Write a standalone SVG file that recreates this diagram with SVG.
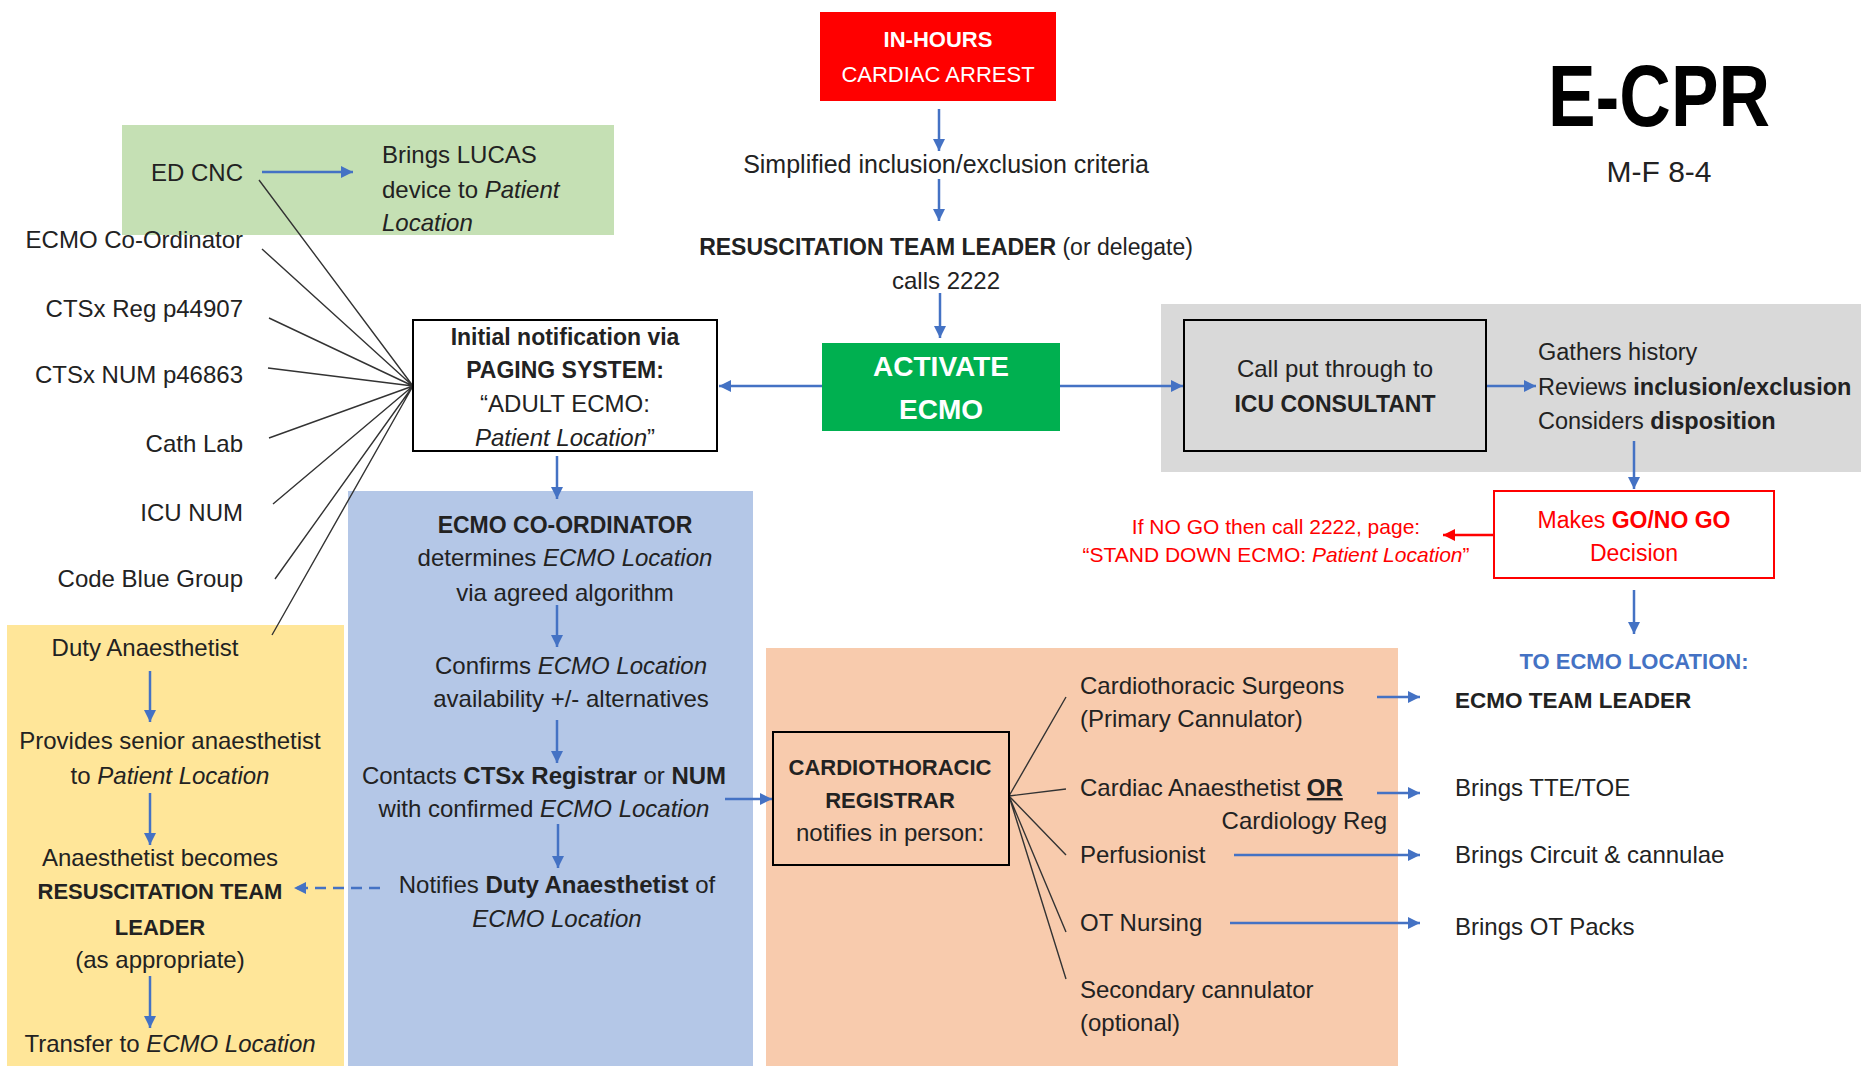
<svg xmlns="http://www.w3.org/2000/svg" width="1861" height="1066" viewBox="0 0 1861 1066">
<style>
text{font-family:"Liberation Sans",Arial,sans-serif;font-size:24px;fill:#222}
.b{font-weight:bold}
.i{font-style:italic}
.m{text-anchor:middle}
.e{text-anchor:end}
.w{fill:#fff}
.r{fill:#ff0000}
.bl{fill:#4472c4}
.arr{stroke:#4472c4;stroke-width:2.5;fill:none;marker-end:url(#ah)}
.ln{stroke:#333;stroke-width:1.4;fill:none}
</style>
<defs>
<marker id="ah" markerUnits="userSpaceOnUse" markerWidth="14" markerHeight="12" refX="12" refY="6" orient="auto">
<path d="M0,0 L12,6 L0,12 z" fill="#4472c4"/>
</marker>
<marker id="ahr" markerUnits="userSpaceOnUse" markerWidth="14" markerHeight="12" refX="12" refY="6" orient="auto">
<path d="M0,0 L12,6 L0,12 z" fill="#ff0000"/>
</marker>
</defs>
<rect width="1861" height="1066" fill="#fff"/>

<!-- background areas -->
<g id="areas">
<rect id="green-area" x="122" y="125" width="492" height="110" fill="#c5e0b4"/>
<rect id="grey-area" x="1161" y="304" width="700" height="168" fill="#d9d9d9"/>
<rect id="blue-area" x="348" y="491" width="405" height="575" fill="#b4c7e7"/>
<rect id="yellow-area" x="7" y="625" width="337" height="441" fill="#ffe699"/>
<rect id="orange-area" x="766" y="648" width="632" height="418" fill="#f8cbad"/>
</g>

<!-- connectors -->
<g id="connectors">
<line class="arr" x1="939" y1="109" x2="939" y2="151"/>
<line class="arr" x1="939" y1="179" x2="939" y2="221"/>
<line class="arr" x1="940" y1="293" x2="940" y2="338"/>
<line class="arr" x1="822" y1="386" x2="719" y2="386"/>
<line class="arr" x1="1060" y1="386" x2="1183" y2="386"/>
<line class="arr" x1="1486" y1="386" x2="1536" y2="386"/>
<line class="arr" x1="1634" y1="441" x2="1634" y2="489"/>
<line x1="1494" y1="535" x2="1443" y2="535" stroke="#ff0000" stroke-width="2.5" marker-end="url(#ahr)"/>
<line class="arr" x1="1634" y1="590" x2="1634" y2="634"/>
<line class="arr" x1="262" y1="172" x2="353" y2="172"/>
<line class="arr" x1="557" y1="456" x2="557" y2="499"/>
<line class="arr" x1="557" y1="605" x2="557" y2="647"/>
<line class="arr" x1="557" y1="720" x2="557" y2="763"/>
<line class="arr" x1="725" y1="799" x2="772" y2="799"/>
<line class="arr" x1="558" y1="824" x2="558" y2="868"/>
<line class="arr" x1="380" y1="888" x2="294" y2="888" stroke-dasharray="11 7"/>
<line class="arr" x1="150" y1="671" x2="150" y2="722"/>
<line class="arr" x1="150" y1="793" x2="150" y2="845"/>
<line class="arr" x1="150" y1="976" x2="150" y2="1028"/>
<line class="arr" x1="1377" y1="697" x2="1420" y2="697"/>
<line class="arr" x1="1377" y1="793" x2="1420" y2="793"/>
<line class="arr" x1="1234" y1="855" x2="1420" y2="855"/>
<line class="arr" x1="1230" y1="923" x2="1420" y2="923"/>
<!-- fan lines to paging -->
<path class="ln" d="M259,180 L413,386 M262,249 L413,386 M269,318 L413,386 M268,368 L413,386 M269,438 L413,386 M273,504 L413,386 M275,579 L413,386 M272,635 L413,386"/>
<!-- fan lines from registrar -->
<path class="ln" d="M1009,796 L1066,697 M1009,796 L1066,789 M1009,796 L1066,855 M1009,796 L1066,932 M1009,796 L1066,979"/>
</g>

<g id="title">
<text class="b m" x="1659" y="126" textLength="222" lengthAdjust="spacingAndGlyphs" style="font-size:88px;fill:#000">E-CPR</text>
<text class="m" x="1659" y="182" style="font-size:30px">M-F 8-4</text>
</g>

<g id="cardiac-arrest">
<rect x="820" y="12" width="236" height="89" fill="#ff0000"/>
<text class="b m w" x="938" y="47" style="font-size:22px">IN-HOURS</text>
<text class="m w" x="938" y="82" style="font-size:22px">CARDIAC ARREST</text>
</g>

<g id="criteria">
<text class="m" x="946" y="173" style="font-size:25px">Simplified inclusion/exclusion criteria</text>
</g>

<g id="team-leader-calls">
<text class="m" x="946" y="255" style="font-size:23px"><tspan class="b">RESUSCITATION TEAM LEADER</tspan> (or delegate)</text>
<text class="m" x="946" y="289">calls 2222</text>
</g>

<g id="activate-ecmo">
<rect x="822" y="343" width="238" height="88" fill="#00b050"/>
<text class="b m w" x="941" y="376" style="font-size:28px">ACTIVATE</text>
<text class="b m w" x="941" y="419" style="font-size:28px">ECMO</text>
</g>

<g id="icu-consultant">
<rect x="1184" y="320" width="302" height="131" fill="#d9d9d9" stroke="#000" stroke-width="2"/>
<text class="m" x="1335" y="377">Call put through to</text>
<text class="b m" x="1335" y="412" style="font-size:23px">ICU CONSULTANT</text>
</g>

<g id="icu-actions">
<text x="1538" y="360" style="font-size:23.5px">Gathers history</text>
<text x="1538" y="395" style="font-size:23.5px">Reviews <tspan class="b">inclusion/exclusion</tspan></text>
<text x="1538" y="429" style="font-size:23.5px">Considers <tspan class="b">disposition</tspan></text>
</g>

<g id="go-no-go">
<rect x="1494" y="491" width="280" height="87" fill="#fff" stroke="#ff0000" stroke-width="2"/>
<text class="m r" x="1634" y="528" style="font-size:23px">Makes <tspan class="b">GO/NO GO</tspan></text>
<text class="m r" x="1634" y="561" style="font-size:23px">Decision</text>
</g>

<g id="stand-down">
<text class="m r" x="1276" y="534" style="font-size:21px">If NO GO then call 2222, page:</text>
<text class="m r" x="1276" y="562" style="font-size:21px">“STAND DOWN ECMO: <tspan class="i">Patient Location</tspan>”</text>
</g>

<g id="to-ecmo-location">
<text class="b m bl" x="1634" y="669" style="font-size:22px">TO ECMO LOCATION:</text>
<text class="b" x="1455" y="708" style="font-size:22.5px">ECMO TEAM LEADER</text>
<text x="1455" y="796">Brings TTE/TOE</text>
<text x="1455" y="863">Brings Circuit &amp; cannulae</text>
<text x="1455" y="935">Brings OT Packs</text>
</g>

<g id="ed-cnc">
<text class="e" x="243" y="181">ED CNC</text>
<text x="382" y="163">Brings LUCAS</text>
<text x="382" y="198">device to <tspan class="i">Patient</tspan></text>
<text class="i" x="382" y="231">Location</text>
</g>

<g id="paged-staff">
<text class="e" x="243" y="248">ECMO Co-Ordinator</text>
<text class="e" x="243" y="317">CTSx Reg p44907</text>
<text class="e" x="243" y="383">CTSx NUM p46863</text>
<text class="e" x="243" y="452">Cath Lab</text>
<text class="e" x="243" y="521">ICU NUM</text>
<text class="e" x="243" y="587">Code Blue Group</text>
</g>

<g id="paging-system">
<rect x="413" y="320" width="304" height="131" fill="#fff" stroke="#000" stroke-width="2"/>
<text class="b m" x="565" y="345" style="font-size:23px">Initial notification via</text>
<text class="b m" x="565" y="378" style="font-size:23px">PAGING SYSTEM:</text>
<text class="m" x="565" y="412">“ADULT ECMO:</text>
<text class="m" x="565" y="446"><tspan class="i">Patient Location</tspan>”</text>
</g>

<g id="ecmo-coordinator">
<text class="b m" x="565" y="533" style="font-size:23px">ECMO CO-ORDINATOR</text>
<text class="m" x="565" y="566">determines <tspan class="i">ECMO Location</tspan></text>
<text class="m" x="565" y="601">via agreed algorithm</text>
<text class="m" x="571" y="674">Confirms <tspan class="i">ECMO Location</tspan></text>
<text class="m" x="571" y="707">availability +/- alternatives</text>
<text class="m" x="544" y="784">Contacts <tspan class="b">CTSx Registrar</tspan> or <tspan class="b">NUM</tspan></text>
<text class="m" x="544" y="817">with confirmed <tspan class="i">ECMO Location</tspan></text>
<text class="m" x="557" y="893">Notifies <tspan class="b">Duty Anaesthetist</tspan> of</text>
<text class="m i" x="557" y="927">ECMO Location</text>
</g>

<g id="duty-anaesthetist">
<text class="m" x="145" y="656">Duty Anaesthetist</text>
<text class="m" x="170" y="749">Provides senior anaesthetist</text>
<text class="m" x="170" y="784">to <tspan class="i">Patient Location</tspan></text>
<text class="m" x="160" y="866">Anaesthetist becomes</text>
<text class="b m" x="160" y="899" style="font-size:22px">RESUSCITATION TEAM</text>
<text class="b m" x="160" y="935" style="font-size:22px">LEADER</text>
<text class="m" x="160" y="968">(as appropriate)</text>
<text class="m" x="170" y="1052">Transfer to <tspan class="i">ECMO Location</tspan></text>
</g>

<g id="cardiothoracic-registrar">
<rect x="773" y="732" width="236" height="133" fill="none" stroke="#000" stroke-width="2"/>
<text class="b m" x="890" y="775" style="font-size:22px">CARDIOTHORACIC</text>
<text class="b m" x="890" y="808" style="font-size:22px">REGISTRAR</text>
<text class="m" x="890" y="841">notifies in person:</text>
</g>

<g id="registrar-contacts">
<text x="1080" y="694">Cardiothoracic Surgeons</text>
<text x="1080" y="727">(Primary Cannulator)</text>
<text x="1080" y="796">Cardiac Anaesthetist <tspan class="b" text-decoration="underline">OR</tspan></text>
<text class="e" x="1387" y="829">Cardiology Reg</text>
<text x="1080" y="863">Perfusionist</text>
<text x="1080" y="931">OT Nursing</text>
<text x="1080" y="998">Secondary cannulator</text>
<text x="1080" y="1031">(optional)</text>
</g>
</svg>
